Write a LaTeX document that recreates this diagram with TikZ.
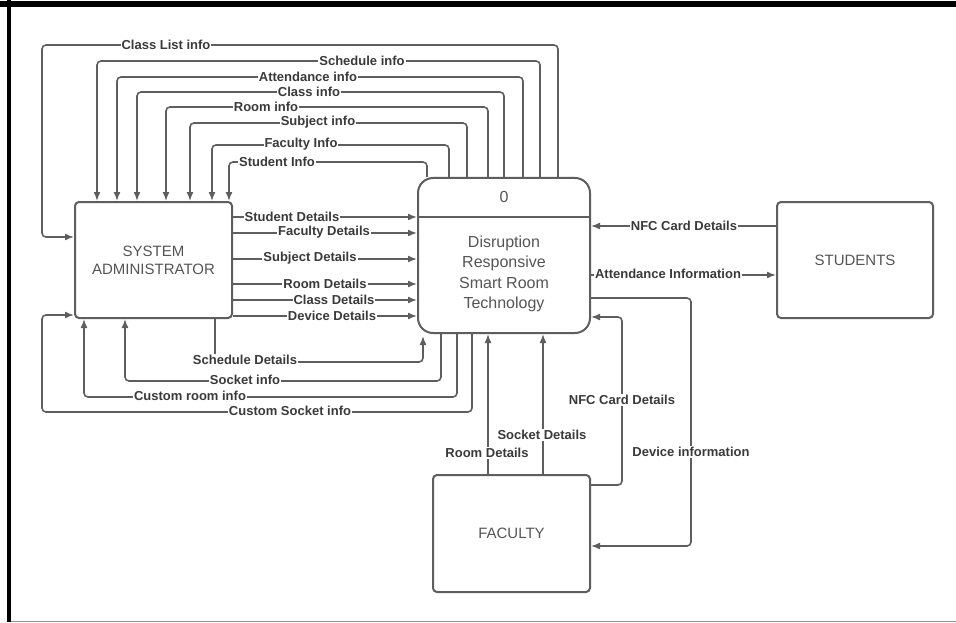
\documentclass[tikz,border=0pt]{standalone}
\usepackage{fontspec}
\setmainfont{Liberation Sans}
\usetikzlibrary{arrows.meta}
\definecolor{ln}{HTML}{5E5E5E}
\definecolor{tx}{HTML}{3A3A3A}
\definecolor{bx}{HTML}{555555}
\tikzset{
  ent/.style={draw=ln, line width=2pt, rounded corners=4pt, text=bx, align=center,
    font=\fontsize{15}{18}\selectfont},
  procbox/.style={draw=ln, line width=2pt, rounded corners=15pt, minimum width=172pt, minimum height=155pt},
  flow/.style={draw=ln, line width=1.6pt, rounded corners=4pt, -{Latex[length=9pt,width=7pt]}},
  lbl/.style={fill=white, text=tx, inner sep=1pt, font=\bfseries\fontsize{13}{15}\selectfont}
}
\begin{document}
\begin{tikzpicture}[x=1pt,y=-1pt]
\useasboundingbox (0,0) rectangle (956,623);
\fill[white] (0,0) rectangle (956,623);
% frame
\fill[black] (0,1) rectangle (956,7);
\fill[black] (7,0) rectangle (11,622);
\draw[gray!85, line width=1.6pt] (11,621.6) -- (956,621.6);

% boxes
\node[ent, minimum width=157pt, minimum height=116pt] (sa) at (153.5,260) {SYSTEM\\ADMINISTRATOR};
\node[procbox] (proc) at (504,255.5) {};
\draw[ln, line width=2pt] (proc.west |- 0,217) -- (proc.east |- 0,217);
\node[text=bx, font=\fontsize{16}{20}\selectfont] (zero) at (504,197) {0};
\node[text=bx, align=center, font=\fontsize{16}{20.5}\selectfont] (ptxt) at (504,274) {Disruption\\Responsive\\Smart Room\\Technology};
\node[ent, minimum width=156pt, minimum height=116pt] (stu) at (855,260) {STUDENTS};
\node[ent, minimum width=157pt, minimum height=117pt] (fac) at (511.5,533.5) {FACULTY};

% top loops
\draw[flow] (558,0 |- proc.north) -- (558,45) -- (42,45) -- (42,237) -- (sa.west |- 0,237);
\node[lbl] (l1) at (166,45) {Class List info};
\draw[flow] (540,0 |- proc.north) -- (540,61) -- (97,61) -- (97,0 |- sa.north);
\node[lbl] (l2) at (362,61) {Schedule info};
\draw[flow] (523,0 |- proc.north) -- (523,77) -- (117,77) -- (117,0 |- sa.north);
\node[lbl] (l3) at (308,76.5) {Attendance info};
\draw[flow] (504,0 |- proc.north) -- (504,92) -- (137,92) -- (137,0 |- sa.north);
\node[lbl] (l4) at (309,91.5) {Class info};
\draw[flow] (488,0 |- proc.north) -- (488,107) -- (166,107) -- (166,0 |- sa.north);
\node[lbl] (l5) at (266,106.5) {Room info};
\draw[flow] (467,0 |- proc.north) -- (467,123) -- (190,123) -- (190,0 |- sa.north);
\node[lbl] (l6) at (318,122.5) {Subject info};
\draw[flow] (449,0 |- proc.north) -- (449,145) -- (212,145) -- (212,0 |- sa.north);
\node[lbl] (l7) at (301,144.5) {Faculty Info};
\draw[flow] (427,0 |- proc.north) -- (427,162) -- (229,162) -- (229,0 |- sa.north);
\node[lbl] (l8) at (277,161.5) {Student Info};

% sysadmin -> process
\draw[flow] (sa.east |- 0,217) -- (proc.west |- 0,217);
\node[lbl] (r1) at (292,216.5) {Student Details};
\draw[flow] (sa.east |- 0,233) -- (proc.west |- 0,233);
\node[lbl] (r2) at (324,232.5) {Faculty Details};
\draw[flow] (sa.east |- 0,259) -- (proc.west |- 0,259);
\node[lbl] (r3) at (310,258.5) {Subject Details};
\draw[flow] (sa.east |- 0,284) -- (proc.west |- 0,284);
\node[lbl] (r4) at (325,283.5) {Room Details};
\draw[flow] (sa.east |- 0,300) -- (proc.west |- 0,300);
\node[lbl] (r5) at (334,299.5) {Class Details};
\draw[flow] (sa.east |- 0,316) -- (proc.west |- 0,316);
\node[lbl] (r6) at (332,315.5) {Device Details};

% bottom loops
\coordinate (schedEnd) at (423,336);
\draw[flow] (215,0 |- sa.south) -- (215,362) -- (423,362) -- (schedEnd);
\node[lbl] (b1) at (245,360) {Schedule Details};
\draw[flow] (441,0 |- proc.south) -- (441,381) -- (125,381) -- (125,0 |- sa.south);
\node[lbl] (b2) at (245,380) {Socket info};
\draw[flow] (457,0 |- proc.south) -- (457,397) -- (84,397) -- (84,0 |- sa.south);
\node[lbl] (b3) at (190,396) {Custom room info};
\draw[flow] (472,0 |- proc.south) -- (472,412) -- (42,412) -- (42,315) -- (sa.west |- 0,315);
\node[lbl] (b4) at (290,411) {Custom Socket info};

% students
\draw[flow] (stu.west |- 0,226) -- (proc.east |- 0,226);
\node[lbl] (s1) at (684,225.5) {NFC Card Details};
\draw[flow] (proc.east |- 0,275) -- (stu.west |- 0,275);
\node[lbl] (s2) at (668,274) {Attendance Information};

% faculty
\draw[flow] (proc.east |- 0,298) -- (691,298) -- (691,546) -- (fac.east |- 0,546);
\node[lbl] (f1) at (691,452) {Device information};
\draw[flow] (fac.east |- 0,485) -- (622,485) -- (622,317) -- (proc.east |- 0,317);
\node[lbl] (f2) at (622,400) {NFC Card Details};
\draw[flow] (488,0 |- fac.north) -- (488,0 |- proc.south);
\node[lbl] (f3) at (487,453) {Room Details};
\draw[flow] (543,0 |- fac.north) -- (543,0 |- proc.south);
\node[lbl] (f4) at (542,435) {Socket Details};
\end{tikzpicture}
\end{document}
